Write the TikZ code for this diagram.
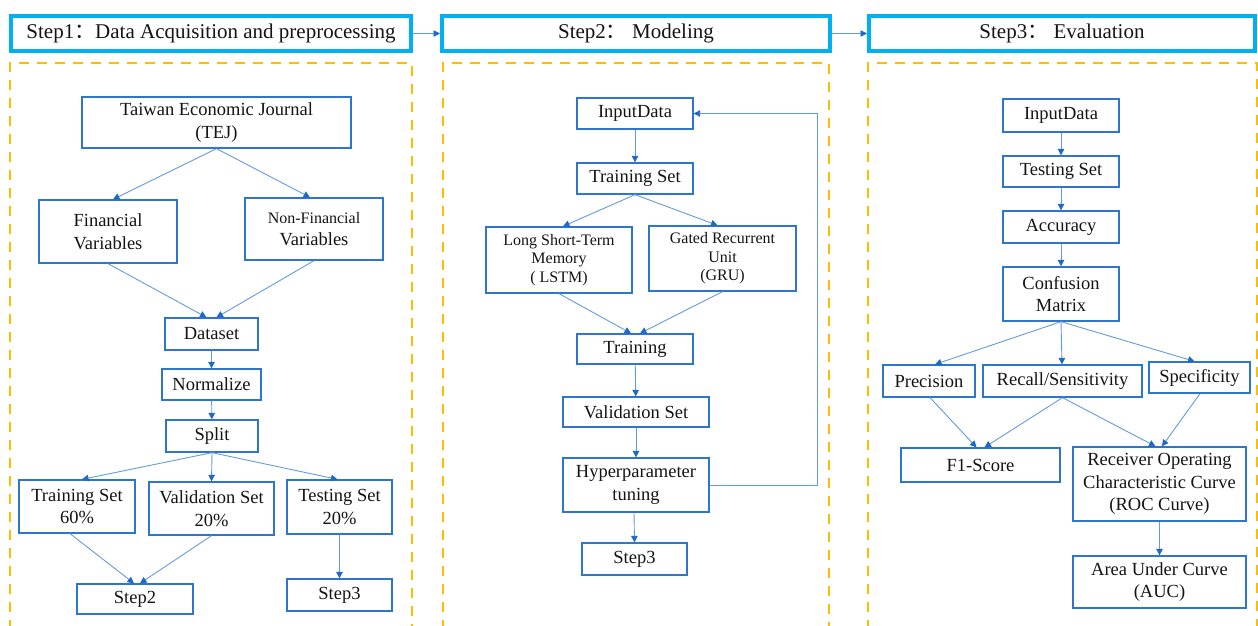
\documentclass[tikz,border=0pt]{standalone}
\usepackage{fontspec}
\setmainfont{Liberation Serif}
\newfontfamily\cjk{Noto Sans CJK SC}
\usetikzlibrary{arrows.meta}
\definecolor{hdr}{RGB}{0,176,240}
\definecolor{dsh}{RGB}{255,188,0}
\definecolor{bx}{RGB}{46,117,204}
\definecolor{ln}{RGB}{100,155,220}
\definecolor{tip}{RGB}{30,105,200}
\definecolor{txt}{RGB}{20,20,20}
\tikzset{
  x=1pt,y=-1pt,
  hbox/.style={draw=hdr,line width=4pt,inner sep=0pt,text=txt,font=\fontsize{21}{24}\selectfont},
  bbox/.style={draw=bx,line width=1.3pt,inner sep=0pt,align=center,text=txt,font=\fontsize{18.5}{22.5}\selectfont},
  sbox/.style={bbox,font=\fontsize{16}{18.5}\selectfont},
  arr/.style={draw=ln,line width=0.9pt,-{Triangle[length=6.5pt,width=6.5pt,color=tip]}},
  panel/.style={draw=dsh,line width=2.8pt,dash pattern=on 10pt off 8pt}
}
\newcommand{\cc}{{\cjk ：}}
\begin{document}
\begin{tikzpicture}
\useasboundingbox (0,0) rectangle (1258,626);
% panels
\draw[panel] (10,630) -- (10,63) -- (412,63) -- (412,630);
\draw[panel] (443,630) -- (443,63) -- (829,63) -- (829,630);
\draw[panel] (868,630) -- (868,63) -- (1257,63) -- (1257,630);
% headers
\node[hbox,minimum width=400pt,minimum height=35pt] (h1) at (211,33.5) {Step1\cc Data Acquisition and preprocessing};
\node[hbox,minimum width=388pt,minimum height=35pt] (h2) at (636,33.5) {Step2\cc\ Modeling};
\node[hbox,minimum width=386pt,minimum height=35pt] (h3) at (1062,33.5) {Step3\cc\ Evaluation};
\draw[arr] (h1.east) -- (h2.west);
\draw[arr] (h2.east) -- (h3.west);
% left panel
\node[bbox,minimum width=269pt,minimum height=51pt] (tej) at (216.5,122.5) {Taiwan Economic Journal\\(TEJ)};
\node[bbox,minimum width=138pt,minimum height=63pt] (fin) at (108,231.5) {Financial\\Variables};
\node[bbox,minimum width=138pt,minimum height=62pt] (nfin) at (314,229) {{\fontsize{16}{18}\selectfont Non-Financial}\\Variables};
\node[bbox,minimum width=93pt,minimum height=32pt] (ds) at (211.5,334) {Dataset};
\node[bbox,minimum width=99pt,minimum height=31pt] (norm) at (211.5,384.5) {Normalize};
\node[bbox,minimum width=92pt,minimum height=32pt] (split) at (212,436) {Split};
\node[bbox,minimum width=116pt,minimum height=53pt] (tr) at (77,506.5) {Training Set\\60\%};
\node[bbox,minimum width=125pt,minimum height=53pt] (va) at (211.5,508.5) {Validation Set\\20\%};
\node[bbox,minimum width=105pt,minimum height=54pt] (te) at (339.5,507) {Testing Set\\20\%};
\node[bbox,minimum width=116pt,minimum height=30pt] (s2) at (135,599) {Step2};
\node[bbox,minimum width=105pt,minimum height=32pt] (s3a) at (339.5,595) {Step3};
\draw[arr] (tej.south) -- ([xshift=5pt]fin.north);
\draw[arr] (tej.south) -- ([xshift=-4pt]nfin.north);
\draw[arr] (fin.south) -- ([xshift=-5pt]ds.north);
\draw[arr] (nfin.south) -- ([xshift=5pt]ds.north);
\draw[arr] (ds) -- (norm);
\draw[arr] (norm) -- (split);
\draw[arr] (split.south) -- ([xshift=5pt]tr.north);
\draw[arr] (split.south) -- (va.north);
\draw[arr] (split.south) -- ([xshift=-2pt]te.north);
\draw[arr] ([xshift=-7pt]tr.south) -- ([xshift=-1pt]s2.north);
\draw[arr] (va.south) -- ([xshift=5pt]s2.north);
\draw[arr] (te) -- (s3a);
% middle panel
\node[bbox,minimum width=116pt,minimum height=31pt] (in2) at (635,113.5) {InputData};
\node[bbox,minimum width=116pt,minimum height=31pt] (ts2) at (635,178.5) {Training Set};
\node[sbox,minimum width=146pt,minimum height=66pt] (lstm) at (559,260) {Long Short-Term\\Memory\\( LSTM)};
\node[sbox,minimum width=147pt,minimum height=65pt] (gru) at (722.5,258.5) {Gated Recurrent\\Unit\\(GRU)};
\node[bbox,minimum width=116pt,minimum height=30pt] (trn) at (635,349) {Training};
\node[bbox,minimum width=146pt,minimum height=30pt] (vs) at (636,412) {Validation Set};
\node[bbox,minimum width=146pt,minimum height=54pt] (hyp) at (636,485) {Hyperparameter\\tuning};
\node[bbox,minimum width=105pt,minimum height=32pt] (s3b) at (634.5,559) {Step3};
\draw[arr] (in2) -- (ts2);
\draw[arr] (ts2.south) -- ([xshift=4pt]lstm.north);
\draw[arr] (ts2.south) -- ([xshift=-5pt]gru.north);
\draw[arr] (lstm.south) -- ([xshift=-4pt]trn.north);
\draw[arr] (gru.south) -- ([xshift=5pt]trn.north);
\draw[arr] (trn) -- (vs);
\draw[arr] (vs) -- (hyp);
\draw[arr] ([xshift=-2pt]hyp.south) -- (s3b.north);
\draw[arr] (hyp.east) -- ++(108,0) |- (in2.east);
% right panel
\node[bbox,minimum width=116pt,minimum height=33pt] (in3) at (1061,115.5) {InputData};
\node[bbox,minimum width=116pt,minimum height=31pt] (ts3) at (1061,171.5) {Testing Set};
\node[bbox,minimum width=116pt,minimum height=32pt] (acc) at (1061,227) {Accuracy};
\node[bbox,minimum width=116pt,minimum height=54pt] (cm) at (1061,294) {Confusion\\Matrix};
\node[bbox,minimum width=92pt,minimum height=32pt] (pre) at (929,381) {Precision};
\node[bbox,minimum width=159pt,minimum height=32pt] (rec) at (1062.5,381) {Recall/Sensitivity};
\node[bbox,minimum width=101pt,minimum height=31pt] (spe) at (1199.5,377.5) {Specificity};
\node[bbox,minimum width=159pt,minimum height=34pt] (f1) at (980.5,465) {F1-Score};
\node[bbox,minimum width=173pt,minimum height=74pt] (roc) at (1159.5,484) {Receiver Operating\\Characteristic Curve\\(ROC Curve)};
\node[bbox,minimum width=173pt,minimum height=52pt] (auc) at (1159.5,582) {Area Under Curve\\(AUC)};
\draw[arr] (in3) -- (ts3);
\draw[arr] (ts3) -- (acc);
\draw[arr] (acc) -- (cm);
\draw[arr] (cm.south) -- ([xshift=6pt]pre.north);
\draw[arr] (cm.south) -- ([xshift=-0.5pt]rec.north);
\draw[arr] (cm.south) -- ([xshift=-5pt]spe.north);
\draw[arr] ([xshift=1pt]pre.south) -- ([xshift=-4pt]f1.north);
\draw[arr] (rec.south) -- ([xshift=4pt]f1.north);
\draw[arr] (rec.south) -- ([xshift=-4pt]roc.north);
\draw[arr] ([xshift=0.5pt]spe.south) -- ([xshift=2.5pt]roc.north);
\draw[arr] (roc) -- (auc);
\end{tikzpicture}
\end{document}
